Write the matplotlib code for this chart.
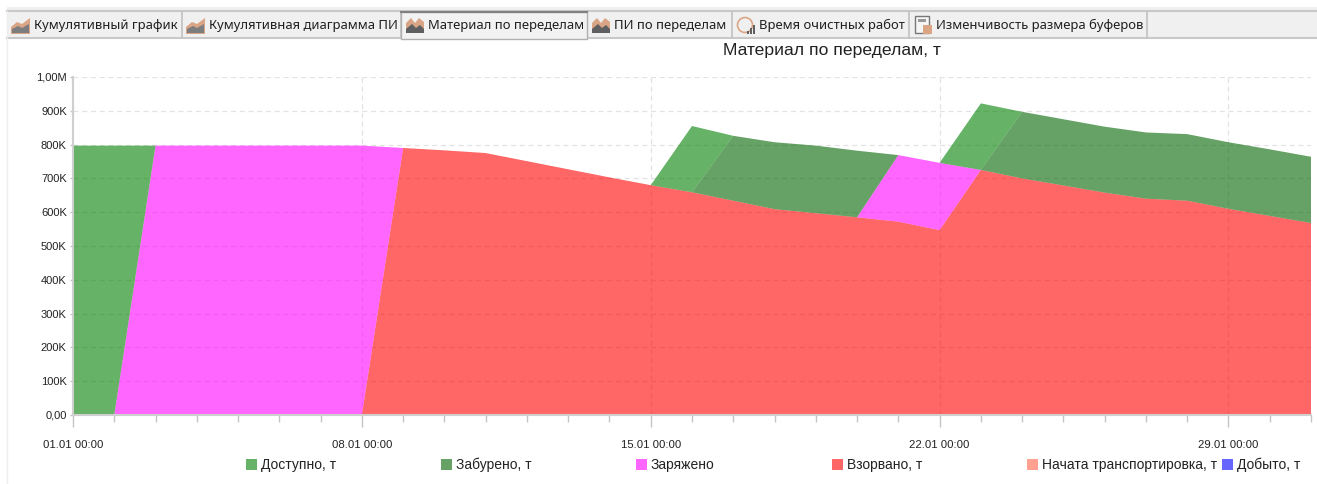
import pandas as pd
import matplotlib
matplotlib.use('Agg')
import matplotlib.pyplot as plt
import matplotlib.dates as mdates
from matplotlib.patches import Rectangle, Polygon, Circle
from matplotlib.ticker import FuncFormatter

W, H = 1317, 484

# данные по дням, 01.01 - 31.01
days = pd.date_range('2021-01-01', periods=31, freq='D')
vzorvano = [0, 0, 0, 0, 0, 0, 0, 0, 790, 783, 775, 751, 727, 703, 680, 659,
            634, 609, 597, 585, 572, 547, 725, 700, 679, 658, 640, 634, 610, 589, 568]
zaryazheno = [0, 0, 797, 797, 797, 797, 797, 797, 0, 0, 0, 0, 0, 0, 0, 0,
              0, 0, 0, 0, 197, 199, 0, 0, 0, 0, 0, 0, 0, 0, 0]
zabureno = [0, 0, 0, 0, 0, 0, 0, 0, 0, 0, 0, 0, 0, 0, 0, 0,
            192, 198, 200, 197, 0, 0, 0, 197, 196, 195, 196, 197, 197, 197, 196]
dostupno = [797, 797, 0, 0, 0, 0, 0, 0, 0, 0, 0, 0, 0, 0, 0, 196,
            0, 0, 0, 0, 0, 0, 197, 0, 0, 0, 0, 0, 0, 0, 0]
nachata = [0] * 31
dobyto = [0] * 31

series_names = ['Доступно, т', 'Забурено, т', 'Заряжено', 'Взорвано, т',
                'Начата транспортировка, т', 'Добыто, т']
series_colors = ['green', 'darkgreen', 'magenta', 'red', 'tomato', 'blue']
legend_x = [246, 441, 636, 832, 1027, 1222]

tab_names = ['Кумулятивный график', 'Кумулятивная диаграмма ПИ', 'Материал по переделам',
             'ПИ по переделам', 'Время очистных работ', 'Изменчивость размера буферов']
tab_edges = [7, 182, 401, 587, 732, 909, 1147]

y_ticks = [0, 100, 200, 300, 400, 500, 600, 700, 800, 900, 1000]


def y_label(v, pos):
    if v == 0:
        return '0,00'
    if v >= 1000:
        return '1,00M'
    return '%dK' % v


plt.rcParams['font.family'] = ['Liberation Sans', 'DejaVu Sans']
fig = plt.figure(figsize=(W / 100, H / 100), dpi=100, facecolor='white')

# основной график
ax = fig.add_axes([73 / W, 1 - 415 / H, (1311 - 73) / W, (415 - 77) / H])
ax.set_axisbelow(True)
ax.stackplot(days, dobyto, nachata, vzorvano, zaryazheno, zabureno, dostupno,
             colors=['blue', 'tomato', 'red', 'magenta', 'darkgreen', 'green'],
             alpha=0.6, linewidth=0)
ax.set_xlim(days[0], days[-1])
ax.set_ylim(0, 1000)
ax.set_yticks(y_ticks)
ax.yaxis.set_major_formatter(FuncFormatter(y_label))
ax.xaxis.set_major_locator(mdates.DayLocator(bymonthday=[1, 8, 15, 22, 29]))
ax.xaxis.set_major_formatter(mdates.DateFormatter('%d.%m %H:%M'))
ax.xaxis.set_minor_locator(mdates.DayLocator())
ax.grid(True, which='major', color='#e3e3e3', linestyle=(0, (4, 3)), linewidth=0.9)
ax.tick_params(axis='x', which='major', length=8.6, width=1, color='#c4c4c4',
               labelsize=8.2, pad=9.5, labelcolor='#222222')
ax.tick_params(axis='x', which='minor', length=5, width=1, color='#c4c4c4')
ax.tick_params(axis='y', length=2.5, width=1, color='#c4c4c4', labelsize=8, pad=2,
               labelcolor='#222222')
for s in ['top', 'right']:
    ax.spines[s].set_visible(False)
for s in ['left', 'bottom']:
    ax.spines[s].set_color('#cfcfcf')
    ax.spines[s].set_linewidth(1.5)

# слой в пикселях для вкладок и легенды
ui = fig.add_axes([0, 0, 1, 1], facecolor='none')
ui.set_xlim(0, W)
ui.set_ylim(H, 0)
ui.axis('off')

ui.text(832, 51, 'Материал по переделам, т', fontsize=12.6, ha='center', va='center',
        color='#222222')

for name, color, x in zip(series_names, series_colors, legend_x):
    ui.add_patch(Rectangle((x, 459), 11, 11, facecolor=color, alpha=0.6, linewidth=0))
    ui.text(x + 15, 465, name, fontsize=10, va='center', color='#222222')

# вкладки
ui.add_patch(Rectangle((7, 7), W - 7, 31, facecolor='#f0f0f0', linewidth=0))
ui.plot([7, W], [11, 11], color='#c8c8c8', lw=1.5)
ui.plot([7, W], [37.5, 37.5], color='#c8c8c8', lw=1.5)
ui.plot([7, 7], [11, H], color='#eeeeee', lw=1)
for i, name in enumerate(tab_names):
    x0, x1 = tab_edges[i], tab_edges[i + 1]
    if i == 2:
        ui.add_patch(Rectangle((x0, 12), x1 - x0, 27, facecolor='#f2f2f2',
                               edgecolor='#b0b0b0', linewidth=1, zorder=3))
        ui.plot([x0, x1], [12, 12], color='#808080', lw=1.5, zorder=4)
    ui.plot([x1, x1], [12, 37], color='#c0c0c0', lw=1.2)
    ui.text(x0 + 27, 25, name, family=['Noto Sans', 'DejaVu Sans'], fontsize=9.4,
            va='center', color='#202020', zorder=5)
    ix = x0 + 4
    if i < 2:
        ui.add_patch(Polygon([(ix, 34), (ix, 27), (ix + 6, 22), (ix + 11, 24), (ix + 19, 18), (ix + 19, 34)],
                             facecolor='#d9a585', edgecolor='none', zorder=5))
        ui.add_patch(Polygon([(ix + 1, 33), (ix + 1, 29), (ix + 7, 26), (ix + 11, 28), (ix + 18, 24), (ix + 18, 33)],
                             facecolor='#7d7d80', edgecolor='none', zorder=6))
    elif i < 4:
        ui.add_patch(Polygon([(ix + 1, 33), (ix + 1, 23), (ix + 6, 18), (ix + 10, 23), (ix + 14, 18), (ix + 19, 22), (ix + 19, 33)],
                             facecolor='#d9a585', edgecolor='none', zorder=5))
        ui.add_patch(Polygon([(ix + 1, 33), (ix + 1, 29), (ix + 7, 24), (ix + 11, 28), (ix + 15, 25), (ix + 19, 29), (ix + 19, 33)],
                             facecolor='#5f5f62', edgecolor='none', zorder=6))
    elif i == 4:
        ui.add_patch(Circle((ix + 9, 25), 7.5, facecolor='none', edgecolor='#d9a585', lw=1.2, zorder=5))
        for j, hh in enumerate([3, 6, 9]):
            ui.add_patch(Rectangle((ix + 11 + j * 3, 34 - hh), 2, hh, facecolor='#606060', linewidth=0, zorder=6))
    else:
        ui.add_patch(Rectangle((ix + 2, 16), 14, 17, facecolor='#f5f5f5', edgecolor='#777777', lw=1, zorder=5))
        ui.add_patch(Rectangle((ix + 5, 19), 8, 3, facecolor='#999999', linewidth=0, zorder=6))
        ui.add_patch(Rectangle((ix + 10, 25), 9, 9, facecolor='#d9a585', linewidth=0, zorder=6))

fig.savefig('out.png', dpi=100, facecolor='white')
